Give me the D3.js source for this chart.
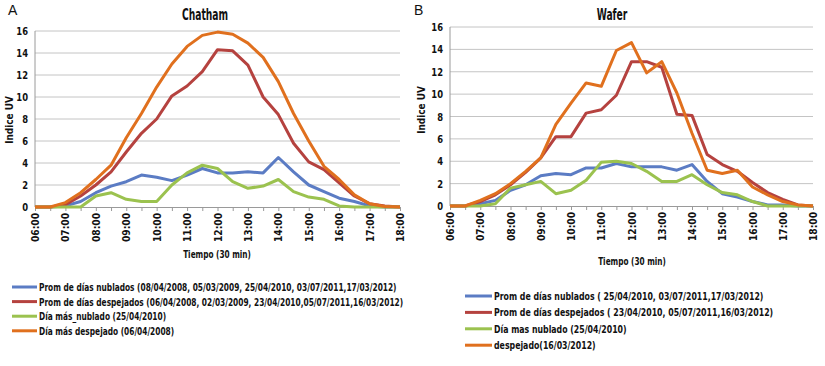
<!DOCTYPE html>
<html>
<head>
<meta charset="utf-8">
<script src="https://cdn.jsdelivr.net/npm/d3@7"></script>
<style>
  body { margin: 0; background: #fff; }
  svg { font-family: "Liberation Sans Narrow", "DejaVu Sans Condensed", "Open Sans", sans-serif; }
  .grid line { stroke: #c4c4c4; stroke-width: 1; }
  .tickY { font-size: 11px; font-weight: bold; fill: #111; }
  .tickX { font-size: 11px; font-weight: bold; fill: #111; }
  .title { font-size: 15px; font-weight: bold; fill: #111; }
  .axisTitle { font-size: 11px; font-weight: bold; fill: #111; }
  .legend { font-size: 11px; font-weight: bold; fill: #111; }
  .panelTag { font-size: 14px; fill: #111; font-family: "Liberation Sans", sans-serif; }
</style>
</head>
<body>
<div id="chart"></div>
<script>
// ============
//   Data
// ============

// Half-hour steps from 06:00 to 18:00
const times = d3.range(0, 25).map(i => {
    const m = 360 + i * 30;
    return String(Math.floor(m / 60)).padStart(2, "0") + ":" + String(m % 60).padStart(2, "0");
});
const tickLabels = times.filter((_, i) => i % 2 === 0);
const yTicks = [0, 2, 4, 6, 8, 10, 12, 14, 16];

const seriesColors = ["#5b7cc4", "#b5423f", "#9bc24f", "#e0701e"];

// Panel A - Chatham
const chathamNublados   = [0, 0, 0.1, 0.5, 1.3, 1.9, 2.3, 2.9, 2.7, 2.4, 2.9, 3.5, 3.1, 3.1, 3.2, 3.1, 4.5, 3.2, 2.0, 1.4, 0.8, 0.5, 0.1, 0, 0];
const chathamDespejados = [0, 0, 0.2, 1.0, 2.0, 3.2, 5.0, 6.7, 8.0, 10.1, 11.0, 12.3, 14.3, 14.2, 12.9, 10.0, 8.4, 5.8, 4.1, 3.4, 2.2, 1.0, 0.3, 0.1, 0];
const chathamMasNublado = [0, 0, 0, 0, 1.0, 1.3, 0.7, 0.5, 0.5, 2.0, 3.1, 3.8, 3.5, 2.3, 1.7, 1.9, 2.5, 1.4, 0.9, 0.7, 0.1, 0, 0, 0, 0];
const chathamMasDespej  = [0, 0, 0.4, 1.3, 2.5, 3.8, 6.3, 8.5, 10.9, 13.0, 14.6, 15.6, 15.9, 15.7, 14.9, 13.6, 11.4, 8.5, 6.0, 3.7, 2.5, 1.1, 0.3, 0.05, 0];
const chathamLegend = [
    "Prom de días nublados (08/04/2008, 05/03/2009, 25/04/2010, 03/07/2011,17/03/2012)",
    "Prom de días despejados (06/04/2008, 02/03/2009, 23/04/2010,05/07/2011,16/03/2012)",
    "Día más_nublado (25/04/2010)",
    "Día más despejado (06/04/2008)"
];

// Panel B - Wafer
const waferNublados   = [0, 0, 0.2, 0.5, 1.4, 1.9, 2.7, 2.9, 2.8, 3.4, 3.4, 3.8, 3.5, 3.5, 3.5, 3.2, 3.7, 2.2, 1.1, 0.8, 0.4, 0.1, 0.1, 0, 0];
const waferDespejados = [0, 0, 0.4, 1.0, 1.9, 3.0, 4.3, 6.2, 6.2, 8.3, 8.6, 9.9, 12.9, 12.9, 12.4, 8.2, 8.1, 4.6, 3.7, 3.1, 2.1, 1.2, 0.6, 0.1, 0];
const waferMasNublado = [0, 0, 0, 0.2, 1.6, 1.9, 2.2, 1.1, 1.4, 2.3, 3.9, 4.0, 3.8, 3.1, 2.2, 2.2, 2.8, 1.9, 1.2, 1.0, 0.4, 0, 0, 0, 0];
const waferDespejado  = [0, 0, 0.5, 1.1, 2.0, 3.1, 4.3, 7.3, 9.2, 11.0, 10.7, 13.9, 14.6, 11.9, 12.9, 10.1, 6.5, 3.2, 2.9, 3.2, 1.7, 1.0, 0.4, 0.1, 0];
const waferLegend = [
    "Prom de días nublados ( 25/04/2010, 03/07/2011,17/03/2012)",
    "Prom de días despejados ( 23/04/2010, 05/07/2011,16/03/2012)",
    "Día mas nublado (25/04/2010)",
    "despejado(16/03/2012)"
];

// ============
//   Drawing
// ============

const svg = d3.select("#chart").append("svg")
    .attr("width", 825)
    .attr("height", 366);

// Squeeze text horizontally (the original uses a narrow font that is not installed)
function condense(sel, k) {
    sel.each(function () {
        const w = this.getComputedTextLength();
        d3.select(this)
            .attr("textLength", w * k)
            .attr("lengthAdjust", "spacingAndGlyphs");
    });
}

/**
 * Draw one panel
 * @param {Object} p - layout of the panel plus its series
 */
function drawPanel(p) {
    const g = svg.append("g");

    const x = d3.scalePoint().domain(times).range([p.left, p.right]);
    const y = d3.scaleLinear().domain([0, 16]).range([p.bottom, p.top]);

    // gridlines
    g.append("g").attr("class", "grid")
        .selectAll("line")
        .data(yTicks.filter(t => t > 0))
        .join("line")
            .attr("x1", p.left).attr("x2", p.right)
            .attr("y1", d => y(d)).attr("y2", d => y(d));

    // y axis line + labels
    g.append("line")
        .attr("x1", p.left).attr("x2", p.left)
        .attr("y1", y(16)).attr("y2", y(0))
        .attr("stroke", "#9a9a9a");
    g.selectAll(".tickY")
        .data(yTicks)
        .join("text")
            .attr("class", "tickY")
            .attr("x", p.left - 7)
            .attr("y", d => y(d) + 4)
            .attr("text-anchor", "end")
            .text(d => d)
            .call(condense, 0.85);

    // x axis
    const xAxis = d3.axisBottom(x).tickSize(4).tickFormat("");
    const ax = g.append("g")
        .attr("transform", `translate(0, ${p.bottom})`)
        .call(xAxis);
    ax.select(".domain").attr("stroke", "#9a9a9a");
    ax.selectAll(".tick line").attr("stroke", "#9a9a9a");

    g.selectAll(".tickX")
        .data(tickLabels)
        .join("text")
            .attr("class", "tickX")
            .attr("transform", d => `translate(${x(d) + 4}, ${p.bottom + 6}) rotate(-90)`)
            .attr("text-anchor", "end")
            .text(d => d)
            .call(condense, 0.92);

    // series
    const line = d3.line().x((_, i) => x(times[i])).y(d => y(d));
    p.series.forEach((s, i) => {
        g.append("path")
            .datum(s)
            .attr("fill", "none")
            .attr("stroke", seriesColors[i])
            .attr("stroke-width", 3)
            .attr("stroke-linejoin", "round")
            .attr("d", line);
    });

    // titles
    g.append("text").attr("class", "title")
        .attr("x", p.titleX).attr("y", 20)
        .attr("text-anchor", "middle").text(p.title)
        .call(condense, 0.68);
    g.append("text").attr("class", "panelTag")
        .attr("x", p.tagX).attr("y", 15).text(p.tag);
    g.append("text").attr("class", "axisTitle")
        .attr("transform", `translate(${p.yTitleX}, ${p.yTitleY}) rotate(-90)`)
        .attr("text-anchor", "middle").text("Indice UV")
        .call(condense, 0.9);
    g.append("text").attr("class", "axisTitle")
        .attr("x", p.xTitleX).attr("y", p.xTitleY)
        .attr("text-anchor", "middle").text("Tiempo (30 min)")
        .call(condense, 0.74);

    // legend
    const lg = g.append("g")
        .selectAll("g")
        .data(p.legend)
        .join("g")
            .attr("transform", (_, i) => `translate(${p.legX}, ${p.legY + i * p.legStep})`);
    lg.append("line")
        .attr("x1", 0).attr("x2", p.legLine)
        .attr("stroke", (_, i) => seriesColors[i])
        .attr("stroke-width", 3);
    lg.append("text").attr("class", "legend")
        .attr("transform", `translate(${p.legLine + 2}, 4) scale(${p.legScale}, 1)`)
        .text(d => d);
}

drawPanel({
    left: 35, right: 400, top: 31, bottom: 207,
    title: "Chatham", titleX: 205, tag: "A", tagX: 8,
    yTitleX: 13, yTitleY: 120, xTitleX: 217, xTitleY: 258,
    series: [chathamNublados, chathamDespejados, chathamMasNublado, chathamMasDespej],
    legend: chathamLegend, legX: 12, legY: 287, legStep: 14.6, legLine: 25, legScale: 0.75
});

drawPanel({
    left: 450, right: 813, top: 27, bottom: 206,
    title: "Wafer", titleX: 612, tag: "B", tagX: 414,
    yTitleX: 425, yTitleY: 110, xTitleX: 632, xTitleY: 265,
    series: [waferNublados, waferDespejados, waferMasNublado, waferDespejado],
    legend: waferLegend, legX: 465, legY: 296, legStep: 16.4, legLine: 27, legScale: 0.79
});
</script>
</body>
</html>
